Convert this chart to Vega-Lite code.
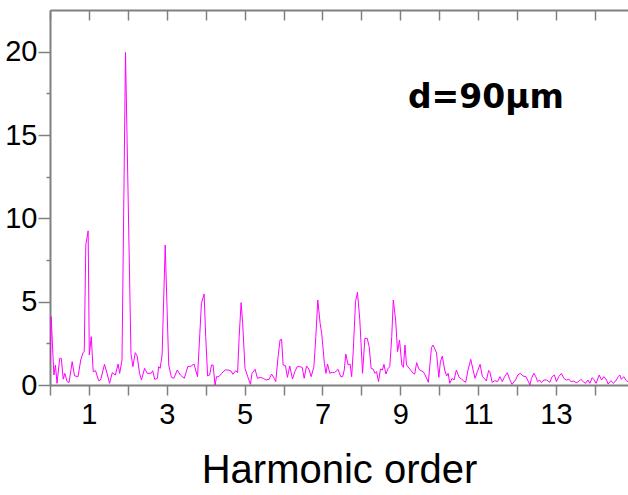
{
  "$schema": "https://vega.github.io/schema/vega-lite/v6.json",
  "width": 578,
  "height": 375,
  "autosize": {"type": "none"},
  "padding": {"left": 50, "top": 10, "right": 0, "bottom": 110},
  "background": "white",
  "config": {"view": {"stroke": null}, "axis": {"grid": false}},
  "datasets": {
    "spec": [
      {"h":0,"v":1.3},{"h":0.03,"v":4.1},{"h":0.1,"v":0.6},{"h":0.14,"v":1.2},{"h":0.18,"v":0.1},{"h":0.25,"v":1.6},{"h":0.29,"v":1.6},{"h":0.34,"v":0.35},{"h":0.38,"v":0.7},{"h":0.44,"v":0.2},{"h":0.49,"v":0.15},{"h":0.57,"v":1.4},{"h":0.63,"v":0.55},{"h":0.72,"v":0.5},{"h":0.79,"v":1.5},{"h":0.85,"v":1.95},{"h":0.88,"v":2.0},{"h":0.92,"v":8.4},{"h":0.98,"v":9.25},{"h":1.01,"v":1.8},{"h":1.06,"v":2.9},{"h":1.11,"v":0.8},{"h":1.17,"v":0.86},{"h":1.25,"v":0.26},{"h":1.3,"v":0.3},{"h":1.4,"v":1.24},{"h":1.47,"v":0.66},{"h":1.53,"v":0.1},{"h":1.6,"v":0.74},{"h":1.68,"v":0.6},{"h":1.75,"v":1.26},{"h":1.79,"v":0.7},{"h":1.85,"v":1.5},{"h":1.94,"v":19.95},{"h":2.08,"v":1.9},{"h":2.13,"v":1.1},{"h":2.19,"v":1.94},{"h":2.24,"v":1.74},{"h":2.3,"v":0.7},{"h":2.35,"v":0.3},{"h":2.43,"v":1.0},{"h":2.5,"v":0.7},{"h":2.6,"v":0.7},{"h":2.64,"v":0.86},{"h":2.69,"v":0.34},{"h":2.76,"v":0.4},{"h":2.79,"v":1.1},{"h":2.83,"v":1.0},{"h":2.88,"v":1.8},{"h":2.96,"v":8.4},{"h":3.05,"v":1.2},{"h":3.12,"v":0.46},{"h":3.18,"v":0.4},{"h":3.27,"v":0.9},{"h":3.35,"v":0.6},{"h":3.45,"v":0.4},{"h":3.54,"v":1.1},{"h":3.63,"v":1.14},{"h":3.7,"v":1.26},{"h":3.79,"v":0.5},{"h":3.85,"v":3.1},{"h":3.89,"v":4.9},{"h":3.96,"v":5.46},{"h":4.0,"v":2.9},{"h":4.05,"v":0.54},{"h":4.1,"v":0.6},{"h":4.15,"v":1.2},{"h":4.19,"v":1.2},{"h":4.24,"v":0.0},{"h":4.28,"v":0.5},{"h":4.34,"v":0.5},{"h":4.41,"v":0.7},{"h":4.5,"v":0.9},{"h":4.58,"v":0.9},{"h":4.65,"v":0.84},{"h":4.7,"v":0.64},{"h":4.77,"v":0.86},{"h":4.82,"v":0.74},{"h":4.86,"v":2.9},{"h":4.91,"v":4.94},{"h":4.95,"v":3.7},{"h":5.01,"v":1.0},{"h":5.08,"v":0.5},{"h":5.15,"v":0.04},{"h":5.19,"v":0.7},{"h":5.27,"v":0.94},{"h":5.33,"v":0.4},{"h":5.4,"v":0.46},{"h":5.48,"v":0.4},{"h":5.55,"v":0.3},{"h":5.63,"v":0.34},{"h":5.69,"v":0.66},{"h":5.76,"v":0.4},{"h":5.8,"v":0.2},{"h":5.86,"v":1.7},{"h":5.91,"v":2.7},{"h":5.95,"v":2.74},{"h":5.99,"v":1.2},{"h":6.05,"v":1.16},{"h":6.1,"v":0.46},{"h":6.16,"v":1.14},{"h":6.23,"v":0.36},{"h":6.29,"v":0.8},{"h":6.35,"v":1.1},{"h":6.42,"v":1.1},{"h":6.48,"v":1.06},{"h":6.53,"v":0.4},{"h":6.59,"v":1.14},{"h":6.65,"v":0.96},{"h":6.71,"v":0.5},{"h":6.78,"v":1.1},{"h":6.83,"v":2.9},{"h":6.88,"v":5.1},{"h":6.94,"v":3.7},{"h":6.98,"v":3.1},{"h":7.05,"v":1.3},{"h":7.09,"v":0.7},{"h":7.13,"v":1.26},{"h":7.19,"v":0.7},{"h":7.25,"v":0.76},{"h":7.31,"v":0.74},{"h":7.4,"v":0.94},{"h":7.47,"v":0.5},{"h":7.52,"v":0.5},{"h":7.56,"v":0.9},{"h":7.6,"v":1.86},{"h":7.66,"v":1.2},{"h":7.71,"v":1.26},{"h":7.75,"v":0.5},{"h":7.79,"v":2.0},{"h":7.85,"v":5.0},{"h":7.9,"v":5.56},{"h":7.96,"v":3.9},{"h":8.03,"v":0.7},{"h":8.09,"v":2.8},{"h":8.15,"v":2.8},{"h":8.2,"v":2.3},{"h":8.25,"v":1.0},{"h":8.3,"v":0.96},{"h":8.35,"v":0.7},{"h":8.39,"v":0.8},{"h":8.44,"v":0.2},{"h":8.49,"v":0.96},{"h":8.54,"v":0.9},{"h":8.58,"v":1.24},{"h":8.63,"v":0.66},{"h":8.69,"v":1.0},{"h":8.73,"v":1.1},{"h":8.78,"v":2.9},{"h":8.82,"v":5.1},{"h":8.88,"v":3.9},{"h":8.93,"v":2.0},{"h":8.98,"v":2.7},{"h":9.04,"v":1.2},{"h":9.08,"v":1.06},{"h":9.12,"v":2.4},{"h":9.16,"v":1.2},{"h":9.25,"v":0.94},{"h":9.33,"v":0.7},{"h":9.37,"v":0.66},{"h":9.42,"v":1.34},{"h":9.48,"v":0.94},{"h":9.53,"v":0.86},{"h":9.59,"v":0.8},{"h":9.65,"v":0.54},{"h":9.72,"v":0.16},{"h":9.8,"v":2.24},{"h":9.84,"v":2.4},{"h":9.93,"v":1.94},{"h":9.99,"v":0.46},{"h":10.03,"v":1.4},{"h":10.08,"v":1.74},{"h":10.14,"v":0.9},{"h":10.19,"v":0.54},{"h":10.23,"v":0.7},{"h":10.27,"v":0.1},{"h":10.33,"v":0.4},{"h":10.38,"v":0.3},{"h":10.44,"v":0.9},{"h":10.51,"v":0.46},{"h":10.57,"v":0.36},{"h":10.63,"v":0.24},{"h":10.68,"v":0.16},{"h":10.74,"v":0.9},{"h":10.81,"v":1.54},{"h":10.87,"v":0.9},{"h":10.92,"v":0.4},{"h":10.98,"v":0.8},{"h":11.05,"v":1.24},{"h":11.11,"v":0.5},{"h":11.16,"v":0.4},{"h":11.21,"v":0.24},{"h":11.27,"v":0.88},{"h":11.3,"v":0.8},{"h":11.36,"v":0.16},{"h":11.43,"v":0.26},{"h":11.5,"v":0.2},{"h":11.56,"v":0.5},{"h":11.62,"v":0.2},{"h":11.68,"v":0.5},{"h":11.75,"v":0.74},{"h":11.81,"v":0.34},{"h":11.87,"v":0.04},{"h":11.96,"v":0.3},{"h":12.02,"v":0.6},{"h":12.08,"v":0.7},{"h":12.15,"v":0.54},{"h":12.23,"v":0.5},{"h":12.27,"v":0.3},{"h":12.33,"v":0.0},{"h":12.37,"v":0.4},{"h":12.43,"v":0.7},{"h":12.48,"v":0.5},{"h":12.53,"v":0.2},{"h":12.58,"v":0.3},{"h":12.63,"v":0.14},{"h":12.69,"v":0.3},{"h":12.76,"v":0.3},{"h":12.84,"v":0.16},{"h":12.9,"v":0.5},{"h":12.96,"v":0.6},{"h":13.01,"v":0.2},{"h":13.07,"v":0.5},{"h":13.14,"v":0.7},{"h":13.2,"v":0.4},{"h":13.27,"v":0.3},{"h":13.33,"v":0.34},{"h":13.39,"v":0.2},{"h":13.45,"v":0.24},{"h":13.52,"v":0.14},{"h":13.58,"v":0.2},{"h":13.64,"v":0.34},{"h":13.7,"v":0.2},{"h":13.76,"v":0.1},{"h":13.82,"v":0.3},{"h":13.87,"v":0.1},{"h":13.93,"v":0.44},{"h":13.97,"v":0.34},{"h":14.03,"v":0.1},{"h":14.11,"v":0.6},{"h":14.17,"v":0.3},{"h":14.23,"v":0.5},{"h":14.3,"v":0.3},{"h":14.34,"v":0.06},{"h":14.41,"v":0.26},{"h":14.48,"v":0.1},{"h":14.55,"v":0.3},{"h":14.6,"v":0.5},{"h":14.64,"v":0.6},{"h":14.68,"v":0.34},{"h":14.74,"v":0.5},{"h":14.81,"v":0.26},{"h":14.85,"v":0.2}
    ],
    "note": [{"h": 11.2, "v": 17.2, "label": "d=90μm"}]
  },
  "layer": [
    {
      "data": {"name": "spec"},
      "mark": {"type": "line", "color": "#ff00ff", "strokeWidth": 1, "clip": true},
      "encoding": {
        "x": {
          "field": "h", "type": "quantitative",
          "scale": {"domain": [0, 14.85], "nice": false, "zero": false},
          "axis": {
            "orient": "bottom",
            "values": [0,1,2,3,4,5,6,7,8,9,10,11,12,13,14],
            "labelExpr": "datum.value % 2 === 1 ? datum.label : ''",
            "labelFont": "Liberation Sans", "labelFontSize": 29, "labelColor": "black",
            "labelPadding": 5, "labelFlush": false, "labelOverlap": false,
            "tickSize": 10, "tickColor": "#808080", "tickWidth": 1.5,
            "domainColor": "#808080", "domainWidth": 2,
            "title": "Harmonic order",
            "titleFont": "Liberation Sans", "titleFontSize": 40, "titleFontWeight": "normal",
            "titleColor": "black", "titlePadding": 21
          }
        },
        "y": {
          "field": "v", "type": "quantitative",
          "scale": {"domain": [0, 22.5], "nice": false},
          "axis": {
            "values": [0,2.5,5,7.5,10,12.5,15,17.5,20],
            "labelExpr": "datum.value % 5 === 0 ? datum.label : ''",
            "labelFont": "Liberation Sans", "labelFontSize": 29, "labelColor": "black",
            "labelPadding": 1, "labelFlush": false, "labelOverlap": false,
            "tickSize": {"condition": {"test": "datum.value % 5 === 0", "value": 12}, "value": 4},
            "tickColor": "#808080", "tickWidth": 1.5,
            "domainColor": "#808080", "domainWidth": 2,
            "title": null
          }
        }
      }
    },
    {
      "data": {"name": "note"},
      "mark": {"type": "text", "font": "DejaVu Sans", "fontWeight": "bold", "fontSize": 33, "align": "center", "baseline": "middle", "color": "black"},
      "encoding": {
        "x": {
          "field": "h", "type": "quantitative",
          "axis": {
            "orient": "top",
            "values": [0,1,2,3,4,5,6,7,8,9,10,11,12,13,14],
            "labels": false, "tickSize": -10, "tickColor": "#808080", "tickWidth": 1.5,
            "domainColor": "#808080", "domainWidth": 2, "title": null
          }
        },
        "y": {
          "field": "v", "type": "quantitative",
          "axis": {
            "values": [0,2.5,5,7.5,10,12.5,15,17.5,20],
            "labelExpr": "datum.value % 5 === 0 ? datum.label : ''",
            "labelFont": "Liberation Sans", "labelFontSize": 29, "labelColor": "black",
            "labelPadding": 1, "labelFlush": false, "labelOverlap": false,
            "tickSize": {"condition": {"test": "datum.value % 5 === 0", "value": 12}, "value": 4},
            "tickColor": "#808080", "tickWidth": 1.5,
            "domainColor": "#808080", "domainWidth": 2,
            "title": null
          }
        },
        "text": {"field": "label"}
      }
    }
  ],
  "resolve": {"axis": {"x": "independent"}}
}
